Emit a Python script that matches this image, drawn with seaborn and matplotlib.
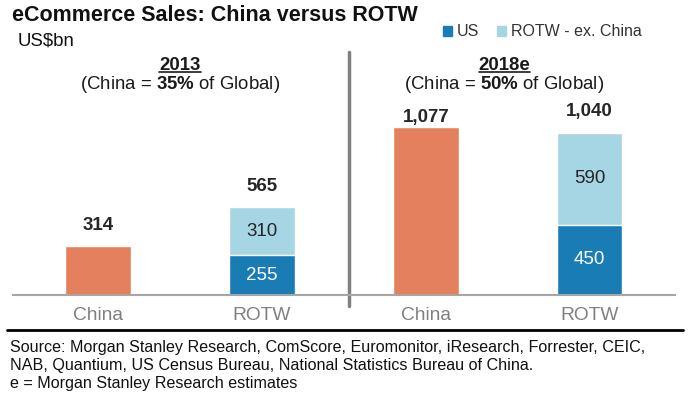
"""eCommerce Sales: China versus ROTW."""
import matplotlib.pyplot as plt
import matplotlib.transforms as mtransforms
from matplotlib.lines import Line2D
from matplotlib.patches import Patch
import seaborn as sns
import pandas as pd

keys = ["China 2013", "ROTW 2013", "China 2018e", "ROTW 2018e"]
tick_labels = ["China", "ROTW", "China", "ROTW"]
china = [314, 0, 1077, 0]
us = [0, 255, 0, 450]
rest = [0, 310, 0, 590]
period_titles = ["2013", "2018e"]
period_shares = ["35%", "50%"]
sources = [
    "Source: Morgan Stanley Research, ComScore, Euromonitor, iResearch, Forrester, CEIC,",
    "NAB, Quantium, US Census Bureau, National Statistics Bureau of China.",
    "e = Morgan Stanley Research estimates",
]

C_CHINA = "#e5805f"
C_US = "#1a7cb5"
C_REST = "#a6d6e4"

sns.set_style("white")
plt.rcParams["font.family"] = ["Liberation Sans", "DejaVu Sans"]
plt.rcParams["mathtext.fontset"] = "custom"
plt.rcParams["mathtext.rm"] = "Liberation Sans"
plt.rcParams["mathtext.bf"] = "Liberation Sans:bold"

df = pd.DataFrame({"key": keys, "china": china, "us": us, "rest": rest})
df["total"] = df["china"] + df["us"] + df["rest"]
rotw = df[df["china"] == 0]
chn = df[df["china"] > 0]

fig = plt.figure(figsize=(6.88, 3.99), dpi=100)
ax = fig.add_axes([0.0189, 0.2607, 0.962, 0.596])

sns.barplot(data=rotw, x="key", y="total", order=keys, color=C_REST, width=0.4, ax=ax, saturation=1)
sns.barplot(data=rotw, x="key", y="us", order=keys, color=C_US, width=0.4, ax=ax, saturation=1)
sns.barplot(data=chn, x="key", y="china", order=keys, color=C_CHINA, width=0.4, ax=ax, saturation=1)

ax.set_xlim(-0.52, 3.52)
ax.set_ylim(0, 1525)
ax.set_xlabel("")
ax.set_ylabel("")
ax.set_yticks([])
ax.set_xticks(range(len(keys)))
ax.set_xticklabels(tick_labels, fontsize=13.8, color="#808080")
ax.tick_params(axis="x", length=0, pad=9)
for s in ["top", "right", "left"]:
    ax.spines[s].set_visible(False)
ax.spines["bottom"].set_color("#a6a6a6")
ax.spines["bottom"].set_linewidth(1.5)

# value labels
top_offsets = [8.5, 8.5, 1, 9]
for i, row in df.iterrows():
    ax.annotate(f"{row['total']:,}", (i, row["total"]), xytext=(0, top_offsets[i]),
                textcoords="offset points", ha="center", va="bottom",
                fontsize=13.5, fontweight="bold", color="#262626")
    if row["us"] > 0:
        ax.text(i, row["us"] / 2, f"{row['us']}", ha="center", va="center",
                fontsize=13.5, color="white")
        ax.text(i, row["us"] + row["rest"] / 2, f"{row['rest']}", ha="center", va="center",
                fontsize=13.5, color="#262626")

# divider between periods
blend = mtransforms.blended_transform_factory(ax.transData, ax.transAxes)
ax.plot([1.53, 1.53], [-0.045, 1.02], transform=blend, color="#808080", lw=2.5, clip_on=False)

# period headings
YEAR_Y = 0.825
fblend = mtransforms.blended_transform_factory(ax.transData, fig.transFigure)
heads = []
for j, (t, s) in enumerate(zip(period_titles, period_shares)):
    xc = 0.5 + 2 * j - 0.02 * j
    h = ax.text(xc, YEAR_Y, t, transform=fblend, ha="center", va="baseline",
                fontsize=13.4, fontweight="bold", color="#1a1a1a")
    heads.append(h)
    ax.text(xc, 0.776, "(China = $\\mathbf{" + s.replace("%", "\\%") + "}$ of Global)",
            transform=fblend, ha="center", va="baseline", fontsize=13.4, color="#1a1a1a")

fig.text(0.017, 0.962, "eCommerce Sales: China versus ROTW", fontsize=15.5,
         fontweight="bold", va="center", color="#111111")
fig.text(0.025, 0.897, "US$bn", fontsize=13.4, va="center", color="#111111")

handles = [Patch(color=C_US, label="US"), Patch(color=C_REST, label="ROTW - ex. China")]
fig.legend(handles=handles, loc="center right", bbox_to_anchor=(0.953, 0.92), ncol=2,
           frameon=False, fontsize=11.5, handlelength=0.55, handleheight=0.55,
           handletextpad=0.3, columnspacing=1.1, labelcolor="#333333")

# footer
fig.add_artist(Line2D([0.01, 0.993], [0.173, 0.173], transform=fig.transFigure,
                      color="black", lw=2))
for k, line in enumerate(sources):
    fig.text(0.015, 0.128 - k * 0.044, line, fontsize=11.6, va="center", color="#111111")

# underline the period years, just under the baseline
fig.canvas.draw()
for h in heads:
    bb = h.get_window_extent(renderer=fig.canvas.get_renderer())
    y = fig.transFigure.transform((0, YEAR_Y))[1] - 2
    fig.add_artist(Line2D([bb.x0, bb.x1], [y, y], transform=None, color="#1a1a1a", lw=1.2))

fig.savefig("out.png", dpi=100)
plt.close(fig)
